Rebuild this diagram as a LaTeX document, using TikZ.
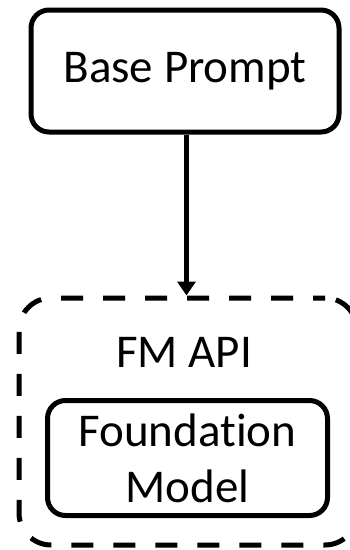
\documentclass[tikz,border=0pt]{standalone}
\usepackage{fontspec}
\setmainfont{Carlito}[Ligatures=NoCommon]
\usetikzlibrary{arrows.meta}
\begin{document}
\begin{tikzpicture}[x=1pt,y=1pt,
  txt/.style={font=\fontsize{47}{56}\selectfont},
  box/.style={txt,draw=black,line width=5pt,rounded corners=18pt,align=center,inner sep=0pt},
  dbox/.style={draw=black,line width=5pt,rounded corners=32pt,dash pattern=on 22pt off 20pt,dash phase=10pt},
  conn/.style={line width=5pt,-{Triangle[width=18pt,length=14pt]}}]
\useasboundingbox (0,0) rectangle (349,-550);
\node[box,minimum width=308pt,minimum height=122pt] (bp) at (185,-71) {Base Prompt};
\node[dbox,minimum width=338pt,minimum height=247pt] (api) at (188,-421.5) {};
\node[txt] (lbl) at (184,-352) {FM API};
\node[box,minimum width=280pt,minimum height=115pt] (fm) at (187.5,-458) {Foundat\kern0pt ion\\Model};
\draw[conn] (bp.south -| 186.5,0) -- (api.north -| 186.5,0);
\end{tikzpicture}
\end{document}
